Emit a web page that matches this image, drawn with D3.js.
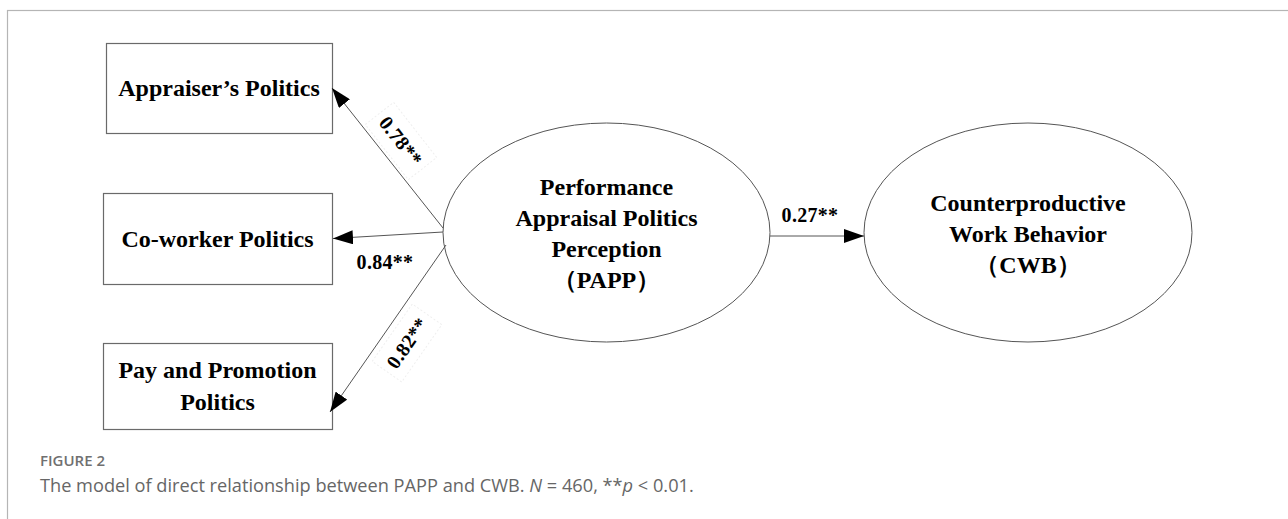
<!DOCTYPE html>
<html>
<head>
<meta charset="utf-8">
<script src="https://cdn.jsdelivr.net/npm/d3@7"></script>
<style>
  body { margin: 0; background: #fff; }
  svg { display: block; }
</style>
</head>
<body>
<div id="chart"></div>
<script>
// observed indicators (boxes) and latent constructs (ellipses)
var indicators = ["Appraiser\u2019s Politics", "Co-worker Politics", "Pay and Promotion|Politics"];
var loadings = ["0.78**", "0.84**", "0.82**"];
var latents = ["Performance|Appraisal Politics|Perception|\uFF08PAPP\uFF09", "Counterproductive|Work Behavior|\uFF08CWB\uFF09"];
var pathCoef = ["0.27**"];
var figLabel = "FIGURE 2";

var width = 1288, height = 519;

var svg = d3.select("#chart").append("svg")
  .attr("width", width)
  .attr("height", height);

// outer frame
svg.append("rect")
  .attr("x", 7.5).attr("y", 10.5)
  .attr("width", width + 20).attr("height", height + 20)
  .attr("fill", "none")
  .attr("stroke", "#b5b5b5")
  .attr("stroke-width", 1.2);

var defs = svg.append("defs");
defs.append("marker")
  .attr("id", "head")
  .attr("viewBox", "0 0 20 14")
  .attr("refX", 20).attr("refY", 7)
  .attr("markerWidth", 20).attr("markerHeight", 14)
  .attr("markerUnits", "userSpaceOnUse")
  .attr("orient", "auto")
  .append("path")
  .attr("d", "M0,0 L20,7 L0,14 Z")
  .attr("fill", "#000");

var serif = "'Liberation Serif', 'Times New Roman', serif";

// box layout
var boxes = [
  { x: 106, y: 43, w: 226, h: 90 },
  { x: 103, y: 193, w: 229, h: 91 },
  { x: 103, y: 343, w: 229, h: 86 }
];
var ells = [
  { cx: 606.5, cy: 232.5, rx: 163.5, ry: 109.5 },
  { cx: 1028, cy: 232.5, rx: 164, ry: 109.5 }
];

var boxG = svg.selectAll("g.box")
  .data(indicators)
  .enter().append("g")
  .attr("class", "box");

boxG.append("rect")
  .attr("x", function(d, i) { return boxes[i].x + 0.5; })
  .attr("y", function(d, i) { return boxes[i].y + 0.5; })
  .attr("width", function(d, i) { return boxes[i].w; })
  .attr("height", function(d, i) { return boxes[i].h; })
  .attr("fill", "#fff")
  .attr("stroke", "#6a6a6a")
  .attr("stroke-width", 1.2);

boxG.each(function(d, i) {
  var lines = d.split("|");
  var b = boxes[i];
  var lh = 32;
  var base = b.y + b.h / 2 + 8 - (lines.length - 1) * lh / 2;
  d3.select(this).selectAll("text")
    .data(lines)
    .enter().append("text")
    .attr("x", b.x + b.w / 2)
    .attr("y", function(t, j) { return base + j * lh; })
    .attr("text-anchor", "middle")
    .style("font-family", serif)
    .style("font-weight", "bold")
    .style("font-size", "24px")
    .text(function(t) { return t; });
});

var ellG = svg.selectAll("g.latent")
  .data(latents)
  .enter().append("g")
  .attr("class", "latent");

ellG.append("ellipse")
  .attr("cx", function(d, i) { return ells[i].cx; })
  .attr("cy", function(d, i) { return ells[i].cy; })
  .attr("rx", function(d, i) { return ells[i].rx; })
  .attr("ry", function(d, i) { return ells[i].ry; })
  .attr("fill", "#fff")
  .attr("stroke", "#555")
  .attr("stroke-width", 1);

ellG.each(function(d, i) {
  var lines = d.split("|");
  var e = ells[i];
  var lh = 31;
  var base = e.cy + 9 - (lines.length - 1) * lh / 2;
  d3.select(this).selectAll("text")
    .data(lines)
    .enter().append("text")
    .attr("x", e.cx)
    .attr("y", function(t, j) { return base + j * lh; })
    .attr("text-anchor", "middle")
    .style("font-family", serif)
    .style("font-weight", "bold")
    .style("font-size", "24px")
    .text(function(t) { return t; });
});

// loading arrows: latent -> indicators
var arrows = [
  { x1: 443, y1: 228, x2: 332, y2: 88 },
  { x1: 443, y1: 232, x2: 333, y2: 238.5 },
  { x1: 446, y1: 245, x2: 330, y2: 412 }
];
var labelPos = [
  { x: 401, y: 141, rot: 52 },
  { x: 385, y: 262, rot: 0 },
  { x: 407, y: 343, rot: -55 }
];

svg.selectAll("line.load")
  .data(loadings)
  .enter().append("line")
  .attr("class", "load")
  .attr("x1", function(d, i) { return arrows[i].x1; })
  .attr("y1", function(d, i) { return arrows[i].y1; })
  .attr("x2", function(d, i) { return arrows[i].x2; })
  .attr("y2", function(d, i) { return arrows[i].y2; })
  .attr("stroke", "#555")
  .attr("stroke-width", 1)
  .attr("marker-end", "url(#head)");

var lab = svg.selectAll("g.loadlab")
  .data(loadings)
  .enter().append("g")
  .attr("class", "loadlab")
  .attr("transform", function(d, i) {
    var p = labelPos[i];
    return "translate(" + p.x + "," + p.y + ") rotate(" + p.rot + ")";
  });

// faint label frames from the original scan
lab.filter(function(d, i) { return i != 1; })
  .append("rect")
  .attr("x", -35).attr("y", -18)
  .attr("width", 70).attr("height", 36)
  .attr("fill", "none")
  .attr("stroke", "#efefef")
  .attr("stroke-dasharray", "2,2");

lab.append("text")
  .attr("x", 0).attr("y", 7)
  .attr("text-anchor", "middle")
  .style("font-family", serif)
  .style("font-weight", "bold")
  .style("font-size", "20px")
  .style("letter-spacing", "0.3px")
  .text(function(d) { return d; });

// structural path PAPP -> CWB
svg.selectAll("line.path")
  .data(pathCoef)
  .enter().append("line")
  .attr("class", "path")
  .attr("x1", ells[0].cx + ells[0].rx).attr("y1", 236)
  .attr("x2", ells[1].cx - ells[1].rx).attr("y2", 236)
  .attr("stroke", "#555")
  .attr("stroke-width", 1)
  .attr("marker-end", "url(#head)");

svg.selectAll("text.pathlab")
  .data(pathCoef)
  .enter().append("text")
  .attr("class", "pathlab")
  .attr("x", 810).attr("y", 222)
  .attr("text-anchor", "middle")
  .style("font-family", serif)
  .style("font-weight", "bold")
  .style("font-size", "20px")
  .style("letter-spacing", "0.3px")
  .text(function(d) { return d; });

// caption
var sans = "'Open Sans', 'Noto Sans', sans-serif";
svg.append("text")
  .attr("x", 40).attr("y", 466)
  .style("font-family", sans)
  .style("font-weight", "600")
  .style("font-size", "15px")
  .attr("fill", "#707070")
  .text(figLabel);

var cap = svg.append("text")
  .attr("x", 40).attr("y", 492)
  .style("font-family", sans)
  .style("font-size", "18.2px")
  .attr("fill", "#666")
  .text("The model of direct relationship between PAPP and CWB. ");
cap.append("tspan").style("font-style", "italic").text("N");
cap.append("tspan").text(" = 460, **");
cap.append("tspan").style("font-style", "italic").text("p");
cap.append("tspan").text(" < 0.01.");
</script>
</body>
</html>
